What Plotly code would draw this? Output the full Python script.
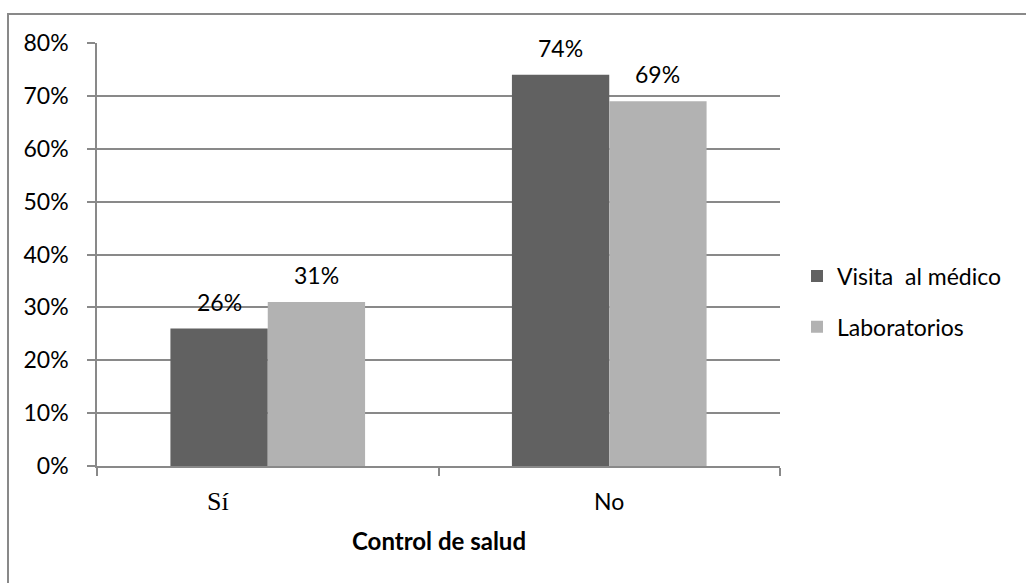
import plotly.graph_objects as go

# Data
categories = ["Sí", "No"]
series_names = ["Visita  al médico", "Laboratorios"]
visita = [0.26, 0.74]
laboratorios = [0.31, 0.69]
y_ticks = [0, 0.1, 0.2, 0.3, 0.4, 0.5, 0.6, 0.7, 0.8]
x_title = "Control de salud"

colors = ["#616161", "#b2b2b2"]
sans = "Lato, 'Open Sans', sans-serif"
serif = "'Liberation Serif', 'DejaVu Serif', serif"
grey = "#898989"

W, H = 1026, 583
L, R, T, B = 97, 246, 43, 117
BARGAP = 0.43

fig = go.Figure()
for i, (name, vals) in enumerate(zip(series_names, [visita, laboratorios])):
    fig.add_trace(go.Bar(
        x=categories, y=vals, name=name,
        marker=dict(color=colors[i], line=dict(width=0)),
        legendgroup=f"g{i}",
    ))

# value labels centred over each bar
bar_w = (1 - BARGAP) / 2
annotations = []
for i, vals in enumerate([visita, laboratorios]):
    offset = (i - 0.5) * bar_w
    for j, v in enumerate(vals):
        annotations.append(dict(
            x=j + offset, y=v, xref="x", yref="y",
            text=f"{round(v * 100)}%", showarrow=False,
            yanchor="middle", yshift=27,
            font=dict(family=sans, size=23, color="black"),
        ))

# category labels under the axis
cat_fonts = [dict(family=serif, size=26, color="black"),
             dict(family=sans, size=23, color="black")]
cat_shift = [-50, 0]
for j, c in enumerate(categories):
    annotations.append(dict(
        x=c, y=-0.083, xref="x", yref="paper", text=c, showarrow=False,
        xshift=cat_shift[j], yanchor="middle", font=cat_fonts[j],
    ))

# axis title
annotations.append(dict(
    x=0.5, y=-0.177, xref="paper", yref="paper", text=f"<b>{x_title}</b>",
    showarrow=False, yanchor="middle",
    font=dict(family=sans, size=24, color="black"),
))

pw, ph = W - L - R, H - T - B
fig.update_layout(
    width=W, height=H,
    margin=dict(l=L, r=R, t=T, b=B, autoexpand=False),
    paper_bgcolor="white", plot_bgcolor="white",
    barmode="group", bargap=BARGAP, bargroupgap=0,
    font=dict(family=sans, size=23, color="black"),
    showlegend=True,
    legend=dict(
        x=(797 - L) / pw, y=(H - B - 301.5) / ph,
        xanchor="left", yanchor="middle",
        font=dict(family=sans, size=23, color="black"),
        tracegroupgap=18, bgcolor="rgba(0,0,0,0)",
    ),
    annotations=annotations,
    shapes=[
        dict(type="line", xref="paper", yref="paper",
             x0=(8 - L) / pw, x1=(8 - L) / pw, y0=1 + (T - 14) / ph, y1=-1,
             line=dict(color=grey, width=2)),
        dict(type="line", xref="paper", yref="paper",
             x0=(7 - L) / pw, x1=2, y0=1 + (T - 14) / ph, y1=1 + (T - 14) / ph,
             line=dict(color=grey, width=2)),
    ],
)

fig.update_yaxes(
    range=[0, 0.8], tickvals=y_ticks, tickformat=".0%",
    showgrid=True, gridcolor=grey, gridwidth=1.5,
    showline=True, linecolor=grey, linewidth=1.5,
    ticks="outside", ticklen=8, tickcolor=grey, tickwidth=1.5,
    ticklabelstandoff=14, zeroline=False,
    tickfont=dict(family=sans, size=23, color="black"),
)
fig.update_xaxes(
    showline=True, linecolor=grey, linewidth=1.5,
    ticks="outside", ticklen=8, tickcolor=grey, tickwidth=1.5,
    tickson="boundaries", showticklabels=False, showgrid=False,
)

fig.write_html("out.html")
